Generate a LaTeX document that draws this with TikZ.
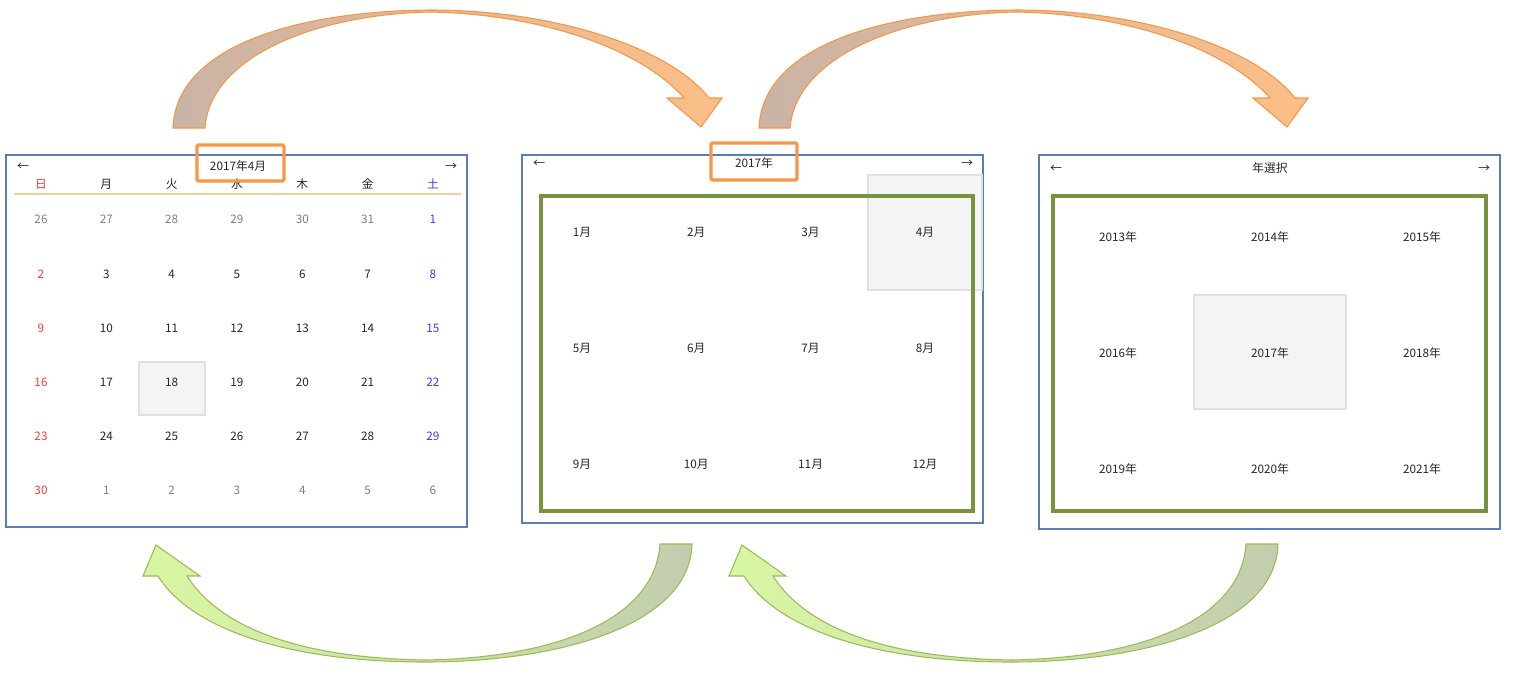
\documentclass[tikz,border=0pt]{standalone}
\usepackage{fontspec}
\setmainfont{Noto Sans CJK JP}
\definecolor{panelblue}{HTML}{5A7DB8}
\definecolor{selorange}{HTML}{F79646}
\definecolor{boxgreen}{HTML}{77933C}
\definecolor{hlfill}{HTML}{F4F4F4}
\definecolor{hlline}{HTML}{E0E0E0}
\definecolor{txt}{HTML}{262626}
\definecolor{dgray}{HTML}{7F7F7F}
\definecolor{dred}{HTML}{FF3B3B}
\definecolor{dblue}{HTML}{3A3AFF}
\definecolor{wline}{HTML}{F2CE9C}
\definecolor{arrtan}{HTML}{C9B4A6}
\definecolor{arrpeach}{HTML}{FDBF86}
\definecolor{arrgray}{HTML}{C2CDAE}
\definecolor{arrlime}{HTML}{D8F7A2}
\definecolor{limeline}{HTML}{9BBB59}
\tikzset{
  panel/.style={draw=panelblue, line width=1.4pt, fill=white},
  selbox/.style={draw=selorange, line width=2.4pt, rounded corners=1pt},
  gridbox/.style={draw=boxgreen, line width=2.4pt},
  hlbox/.style={draw=hlline, fill=hlfill, line width=0.8pt},
  lbl/.style={font=\fontsize{8.8}{10}\selectfont, text=txt, inner sep=0pt,
    text height=7.4pt, text depth=0pt},
  navarrow/.style={font=\fontsize{9}{10}\selectfont, text=txt, inner sep=0pt},
  uparrow/.style={draw=selorange, line width=0.8pt, left color=arrtan, right color=arrpeach},
  downarrow/.style={draw=limeline, line width=0.8pt, left color=arrlime, right color=arrgray}
}
\begin{document}
\begin{tikzpicture}[x=0.75pt,y=-0.75pt]
\useasboundingbox (0,0) rectangle (1521,675);
% ---------- panels ----------
\draw[panel] (6,155) rectangle (467,527);
\draw[panel] (522,155) rectangle (983,523);
\draw[panel] (1039,155) rectangle (1500,529);
% ---------- left panel: day calendar ----------
\node[navarrow] (l-prev) at (23,167) {←};
\node[navarrow] (l-next) at (451,167) {→};
\node[lbl] (l-title) at (238,166) {2017年4月};
\foreach \w/\c [count=\i from 0] in {日/dred,月/txt,火/txt,水/txt,木/txt,金/txt,土/dblue}
  \node[lbl, text=\c] (wd\i) at ({41+65.33*\i},184) {\w};
\draw[wline, line width=0.8pt] (14,194) -- (461,194);
\draw[hlbox] (139,362) rectangle (205,415);
\foreach \d/\c [count=\i from 0] in {
  26/dgray,27/dgray,28/dgray,29/dgray,30/dgray,31/dgray,1/dblue,
  2/dred,3/txt,4/txt,5/txt,6/txt,7/txt,8/dblue,
  9/dred,10/txt,11/txt,12/txt,13/txt,14/txt,15/dblue,
  16/dred,17/txt,18/txt,19/txt,20/txt,21/txt,22/dblue,
  23/dred,24/txt,25/txt,26/txt,27/txt,28/txt,29/dblue,
  30/dred,1/dgray,2/dgray,3/dgray,4/dgray,5/dgray,6/dgray}{
  \pgfmathtruncatemacro\col{mod(\i,7)}
  \pgfmathtruncatemacro\row{div(\i,7)}
  \node[lbl, text=\c] (day\i) at ({41+65.33*\col},{219+54.2*\row}) {\d};
}
% ---------- middle panel: month picker ----------
\node[navarrow] (m-prev) at (539,164) {←};
\node[navarrow] (m-next) at (967,164) {→};
\node[lbl] (m-title) at (754,163) {2017年};
\draw[hlbox] (868,175) rectangle (982,290);
\draw[gridbox] (541,196) rectangle (973,511);
\foreach \m in {1,...,12}{
  \pgfmathtruncatemacro\col{mod(\m-1,4)}
  \pgfmathtruncatemacro\row{div(\m-1,4)}
  \node[lbl] (mon\m) at ({582+114.3*\col},{232+116*\row}) {\m 月};
}
% ---------- right panel: year picker ----------
\node[navarrow] (r-prev) at (1056,169) {←};
\node[navarrow] (r-next) at (1484,169) {→};
\node[lbl] (r-title) at (1270,168) {年選択};
\draw[hlbox] (1194,295) rectangle (1346,409);
\draw[gridbox] (1053,196) rectangle (1486,511);
\foreach \y [count=\i from 0] in {2013,...,2021}{
  \pgfmathtruncatemacro\col{mod(\i,3)}
  \pgfmathtruncatemacro\row{div(\i,3)}
  \node[lbl] (yr\y) at ({1118+152*\col},{237+116*\row}) {\y 年};
}
% ---------- selection highlights ----------
\draw[selbox] (197,145) rectangle (284,181);
\draw[selbox] (711,143) rectangle (797,180);
% ---------- curved block arrows (top: zoom out) ----------
\path[uparrow] (173,128) .. controls (176,45) and (300,11) .. (430,10)
  .. controls (560,10) and (672,50) .. (709,98)
  -- (722,98) -- (701,127) -- (667,98) -- (684,98)
  .. controls (640,48) and (540,14) .. (430,12)
  .. controls (320,14) and (210,55) .. (205,128) -- cycle;
\path[uparrow] (759,128) .. controls (762,45) and (886,11) .. (1016,10)
  .. controls (1146,10) and (1258,50) .. (1295,98)
  -- (1308,98) -- (1287,127) -- (1253,98) -- (1270,98)
  .. controls (1226,48) and (1126,14) .. (1016,12)
  .. controls (906,14) and (796,55) .. (790,128) -- cycle;
% ---------- curved block arrows (bottom: zoom in) ----------
\path[downarrow] (692,544) .. controls (690,625) and (560,662) .. (425,662)
  .. controls (290,662) and (192,630) .. (158,576)
  -- (143,576) -- (156,545) -- (200,576) -- (187,576)
  .. controls (220,628) and (300,658) .. (425,660)
  .. controls (555,658) and (655,620) .. (660,544) -- cycle;
\path[downarrow] (1278,544) .. controls (1276,625) and (1146,662) .. (1011,662)
  .. controls (876,662) and (778,630) .. (744,576)
  -- (729,576) -- (742,545) -- (786,576) -- (773,576)
  .. controls (806,628) and (886,658) .. (1011,660)
  .. controls (1141,658) and (1241,620) .. (1246,544) -- cycle;
\end{tikzpicture}
\end{document}
